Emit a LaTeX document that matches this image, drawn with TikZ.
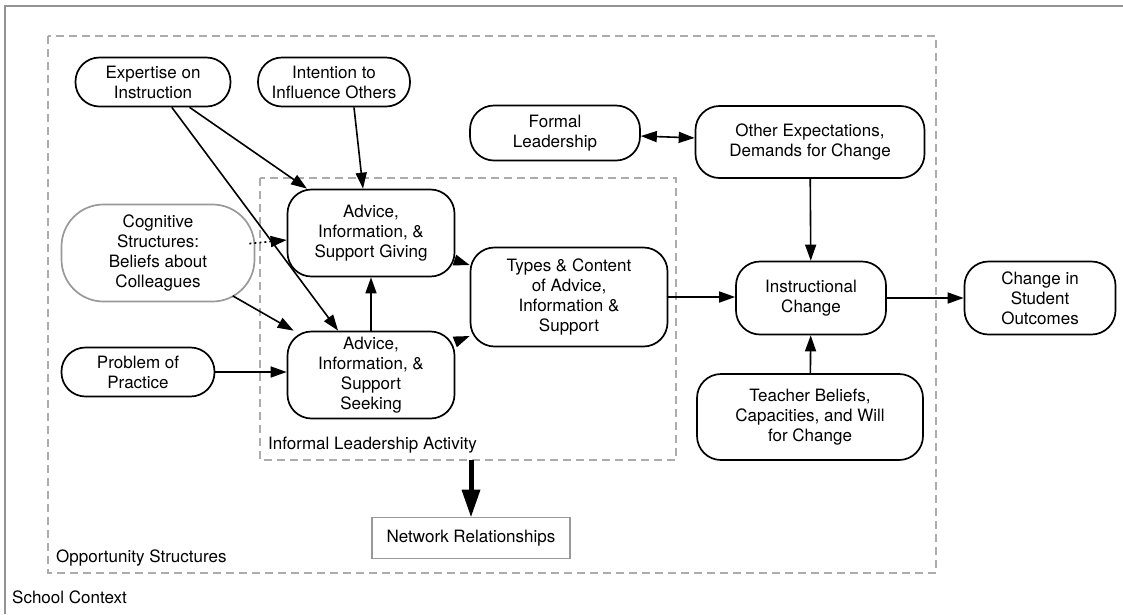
\documentclass[tikz,border=0pt]{standalone}
\usepackage{fontspec}
\setmainfont{TeX Gyre Heros}
\usetikzlibrary{arrows.meta}
\tikzset{
    box/.style={draw, line width=1.7pt, rounded corners=24pt, align=center, inner sep=0pt}, % 圆角框的样式
    soft box/.style={box, draw=gray!80, rounded corners=42pt}, % 灰色框（认知结构）
    link/.style={->, line width=1.6pt}, % 普通箭头
    region/.style={draw=gray!65, line width=1.7pt, dash pattern=on 8pt off 5pt} % 虚线区域
}

\begin{document}
\begin{tikzpicture}[x=1pt, y=-1pt, >={Triangle[length=16pt, width=11pt]}, font=\fontsize{17}{20}\selectfont]
            \def\xmin{48} \def\xmax{936} \def\ymin{36} \def\ymax{573}
            \useasboundingbox (0,0) rectangle (1123,614);

            \draw[draw=gray!85, line width=1.6pt] (5,614) -- (5,6) -- (1123,6);
            \draw[region] (\xmin,\ymin) rectangle (\xmax,\ymax);
            \draw[region] (260,178) rectangle (676,460);
            \node[anchor=base west, inner sep=0pt] (school) at (12,603) {School Context};
            \node[anchor=base west, inner sep=0pt] (opport) at (56,562) {Opportunity Structures};
            \node[anchor=base west, inner sep=0pt] (informal) at (268,449) {Informal Leadership Activity};
            \coordinate (ilabot) at (471,460);

            \node[box, minimum width=155pt, minimum height=49pt] (expert) at (153,82) {Expertise on\\Instruction};
            \node[box, minimum width=152pt, minimum height=49pt] (intent) at (334,82) {Intention to\\Influence Others};
            \node[box, minimum width=170pt, minimum height=55pt] (formal) at (555,133) {Formal\\Leadership};
            \node[box, minimum width=229pt, minimum height=72pt] (demand) at (810,142) {Other Expectations,\\Demands for Change};
            \node[soft box, minimum width=193pt, minimum height=97pt] (cognit) at (158,253) {Cognitive\\Structures:\\Beliefs about\\Colleagues};
            \node[box, minimum width=167pt, minimum height=87pt] (give) at (371,233) {Advice,\\Information, \&\\Support Giving};
            \node[box, minimum width=167pt, minimum height=87pt] (seek) at (371,375) {Advice,\\Information, \&\\Support\\Seeking};
            \node[box, minimum width=197pt, minimum height=99pt] (types) at (569,297) {Types \& Content\\of Advice,\\Information \&\\Support};
            \node[box, minimum width=150pt, minimum height=73pt] (instr) at (811,298) {Instructional\\Change};
            \node[box, minimum width=151pt, minimum height=73pt] (outcome) at (1040,298) {Change in\\Student\\Outcomes};
            \node[box, minimum width=226pt, minimum height=86pt] (teacher) at (810,417) {Teacher Beliefs,\\Capacities, and Will\\for Change};
            \node[box, minimum width=153pt, minimum height=49pt] (problem) at (138,372) {Problem of\\Practice};
            \node[draw=gray!80, line width=1.6pt, minimum width=198pt, minimum height=41pt, inner sep=0pt] (network) at (471,538) {Network Relationships};

            \draw[link] (expert) -- (give);
            \draw[link] (expert) -- (seek);
            \draw[link] ([xshift=20pt]intent.south) -- ([xshift=-8pt]give.north);
            \draw[link, dash pattern=on 2pt off 3pt, shorten <=-6pt] ([yshift=10pt]cognit.east) -- ([yshift=-7pt]give.west);
            \draw[link, shorten <=-13pt] (cognit) -- (seek);
            \draw[link] (problem) -- (problem -| seek.west);
            \draw[link] (seek) -- (give);
            \draw[link] (give) -- (types);
            \draw[link] (seek) -- (types);
            \draw[link] (types) -- (types -| instr.west);
            \draw[link, <->] (formal) -- (demand);
            \draw[link] (demand) -- (instr);
            \draw[link] (teacher) -- (instr);
            \draw[link] (instr) -- (outcome);
            \draw[line width=5pt, -{Triangle[length=27pt, width=19pt, line width=0pt]}] (ilabot) -- (network);
        \end{tikzpicture}
\end{document}
